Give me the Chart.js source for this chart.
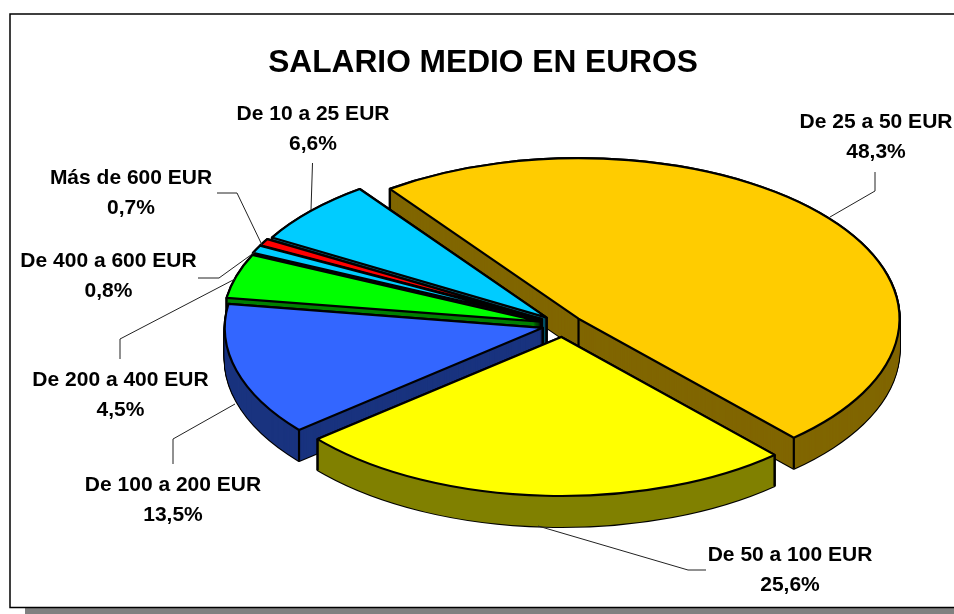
<!DOCTYPE html>
<html><head><meta charset="utf-8">
<style>html,body{margin:0;padding:0;background:#fff}canvas{display:block}</style>
<script src="https://cdn.jsdelivr.net/npm/chart.js@4"></script></head>
<body><canvas id="c" width="954" height="614"></canvas>
<script>
const categories = ['De 25 a 50 EUR','De 50 a 100 EUR','De 100 a 200 EUR','De 200 a 400 EUR','De 400 a 600 EUR','Más de 600 EUR','De 10 a 25 EUR'];
const values = [48.3,25.6,13.5,4.5,0.8,0.7,6.6];
const topColors = ['#FFCC00','#FFFF00','#3366FF','#00FF00','#00CCFF','#FF0000','#00CCFF'];
const wallColors = ['#806600','#808000','#19337F','#008000','#006680','#800000','#006680'];
const explode = [20,24,21,23,24,24,22];
const radiusX = [321,318,318,318,318,318,318];
const titleText = 'SALARIO MEDIO EN EUROS';

// layout of the projected pie
const PIE = {cx:563, cy:325, depth:31, squash:0.5};
const paintOrder = [0,6,5,4,3,2,1];
// label text: centre x, first baseline; leader polyline
const labelLayout = [
 {x:876,y:128,line:[[875,172],[875,191],[830,217]]},
 {x:790,y:561,line:[[706,570],[688,570],[538,526]]},
 {x:173,y:491,line:[[173,464],[173,439],[235,404]]},
 {x:120.5,y:386,line:[[120,359],[120,339],[235,279]]},
 {x:108.5,y:267,line:[[198,278],[219,278],[255,252]]},
 {x:131,y:184,line:[[217,193],[237,193],[262,245]]},
 {x:313,y:120,line:[[312.5,163],[311,210]]}
];

function origin(el,i){
  const mid = (el.startAngle+el.endAngle)/2;
  return [PIE.cx + Math.cos(mid)*explode[i], PIE.cy + Math.sin(mid)*explode[i]*PIE.squash];
}
function sector(ctx, el, i, depth){
  const R = el.outerRadius;
  const sx = radiusX[i]/R, sy = radiusX[i]*PIE.squash/R;
  const o = origin(el,i);
  ctx.save();
  ctx.translate(o[0], o[1] + depth);
  ctx.scale(sx, sy);
  ctx.beginPath();
  ctx.moveTo(0,0);
  ctx.arc(0,0,R,el.startAngle,el.endAngle);
  ctx.closePath();
  ctx.restore();
}
function corners(el,i){
  const o = origin(el,i);
  const pts = [o];
  [el.startAngle,el.endAngle].forEach(a=>pts.push([o[0]+Math.cos(a)*radiusX[i], o[1]+Math.sin(a)*radiusX[i]*PIE.squash]));
  return pts;
}
const pie3d = {
  id:'pie3d',
  beforeDraw(chart){
    const c = chart.ctx;
    c.save();
    c.fillStyle='#fff'; c.fillRect(0,0,954,614);
    c.fillStyle='#808080'; c.fillRect(25,608,929,6);
    c.fillStyle='#fff'; c.strokeStyle='#000'; c.lineWidth=1.5;
    c.fillRect(10,14,950,593.5);
    c.strokeRect(10,14,950,593.5);
    c.restore();
  },
  beforeDatasetDraw(){ return false; },
  afterDatasetsDraw(chart){
    const c = chart.ctx, arcs = chart.getDatasetMeta(0).data;
    c.save();
    c.lineJoin='round';
    paintOrder.forEach(i=>{
      const el = arcs[i];
      c.strokeStyle='#000'; c.lineWidth=2.2;
      for(let d=PIE.depth;d>=0;d-=1){ sector(c,el,i,d); c.stroke(); }
      c.fillStyle=wallColors[i];
      for(let d=PIE.depth;d>=0;d-=1){ sector(c,el,i,d); c.fill(); }
      corners(el,i).forEach(p=>{
        c.beginPath(); c.moveTo(p[0],p[1]); c.lineTo(p[0],p[1]+PIE.depth); c.stroke();
      });
      sector(c,el,i,0);
      c.fillStyle=topColors[i]; c.fill();
      c.stroke();
    });
    // leaders and labels
    c.strokeStyle='#222'; c.lineWidth=1;
    labelLayout.forEach(l=>{
      c.beginPath();
      l.line.forEach((p,k)=>k?c.lineTo(p[0],p[1]):c.moveTo(p[0],p[1]));
      c.stroke();
    });
    c.fillStyle='#000';
    c.font='bold 21px "Liberation Sans", Arial, sans-serif';
    c.textAlign='center'; c.textBaseline='alphabetic';
    labelLayout.forEach((l,i)=>{
      c.fillText(categories[i], l.x, l.y);
      c.fillText(values[i].toFixed(1).replace('.',',')+'%', l.x, l.y+30);
    });
    c.restore();
  }
};
new Chart(document.getElementById('c').getContext('2d'),{
  type:'pie',
  data:{labels:categories,datasets:[{data:values,backgroundColor:topColors,borderColor:'#000',borderWidth:2}]},
  options:{
    responsive:false,animation:false,rotation:-36,
    layout:{padding:{left:12,top:14}},
    plugins:{
      legend:{display:false},tooltip:{enabled:false},
      title:{display:true,text:titleText,color:'#000',align:'center',
        font:{family:'"Liberation Sans", Arial, sans-serif',size:31.7,weight:'bold'},
        padding:{top:30,bottom:10}}
    }
  },
  plugins:[pie3d]
});
</script></body></html>
